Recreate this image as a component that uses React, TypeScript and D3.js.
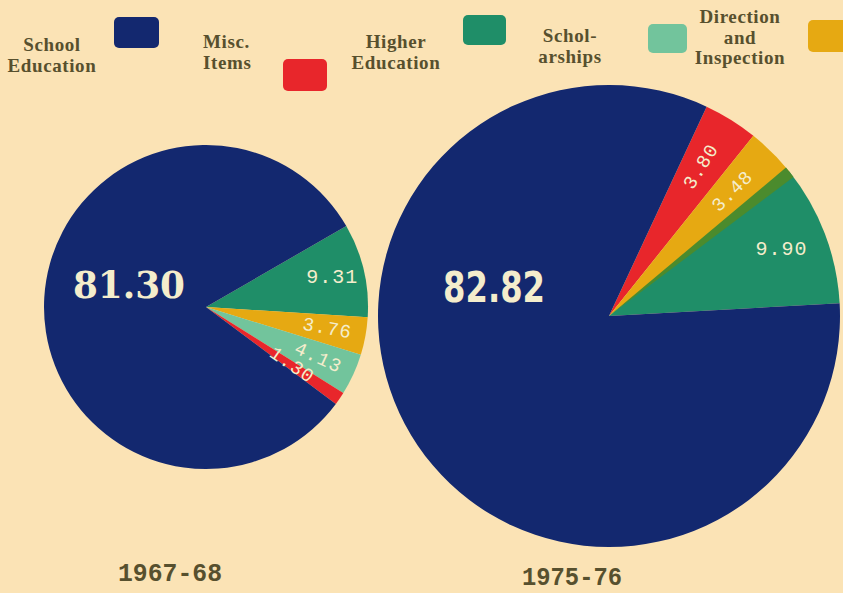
import React from "react";
import * as d3 from "d3";

// ---- data ----
const legendCategories = [
  "School Education",
  "Misc. Items",
  "Higher Education",
  "Scholarships",
  "Direction and Inspection",
];
const legendLines = [
  ["School", "Education"],
  ["Misc.", "Items"],
  ["Higher", "Education"],
  ["Schol-", "arships"],
  ["Direction", "and", "Inspection"],
];
const categoryColors = ["#13286f", "#e8262b", "#1f8e68", "#72c49c", "#e6a912"];

const years = ["1967-68", "1975-76"];

const leftCategories = [
  "Higher Education",
  "Direction and Inspection",
  "Scholarships",
  "Misc. Items",
  "School Education",
];
const leftValues = [9.31, 3.76, 4.13, 1.3, 81.3];
const leftLabels = ["9.31", "3.76", "4.13", "1.30", "81.30"];

const rightCategories = [
  "Misc. Items",
  "Direction and Inspection",
  "Higher Education",
  "School Education",
];
const rightValues = [3.8, 3.48, 9.9, 82.82];
const rightLabels = ["3.80", "3.48", "9.90", "82.82"];

const W = 843;
const H = 593;
const BG = "#fbe3b5";
const INK = "#57502e";
const CREAM = "#f4edcc";

const colorOf = d3.scaleOrdinal<string, string>().domain(legendCategories).range(categoryColors);

type PieSpec = {
  cx: number;
  cy: number;
  r: number;
  cats: string[];
  vals: number[];
  labels: string[];
  startDeg: number;
  bigLabel: { angleDeg: number; rFrac: number; size: number; font: string; len: number };
  overlapAfter?: string;
};

function Pie({ spec }: { spec: PieSpec }) {
  const rad = (d: number) => (d * Math.PI) / 180;
  const pie = d3
    .pie<number>()
    .sort(null)
    .value((d) => d)
    .startAngle(rad(spec.startDeg))
    .endAngle(rad(spec.startDeg) + 2 * Math.PI);
  const arcs = pie(spec.vals);
  const arc = d3.arc<d3.PieArcDatum<number>>().innerRadius(0).outerRadius(spec.r);
  const labelArcAt = (f: number) =>
    d3.arc<d3.PieArcDatum<number>>().innerRadius(spec.r * f).outerRadius(spec.r * f);

  let overlap: React.ReactNode = null;
  if (spec.overlapAfter) {
    const i = spec.cats.indexOf(spec.overlapAfter);
    const b = arcs[i].endAngle;
    const path = d3.arc()({
      innerRadius: 0,
      outerRadius: spec.r,
      startAngle: b - rad(1.2),
      endAngle: b + rad(1.8),
    } as any);
    overlap = <path d={path || ""} fill="#4b8b2d" />;
  }

  return (
    <g transform={`translate(${spec.cx},${spec.cy})`}>
      {arcs.map((a, i) => (
        <path key={i} d={arc(a) || ""} fill={colorOf(spec.cats[i])} />
      ))}
      {overlap}
      {arcs.map((a, i) => {
        const cat = spec.cats[i];
        if (cat === "School Education") {
          const ang = rad(spec.bigLabel.angleDeg);
          const x = Math.sin(ang) * spec.r * spec.bigLabel.rFrac;
          const y = -Math.cos(ang) * spec.r * spec.bigLabel.rFrac;
          return (
            <text
              key={"l" + i}
              x={x}
              y={y}
              textAnchor="middle"
              dominantBaseline="central"
              fill={CREAM}
              fontFamily={spec.bigLabel.font}
              fontWeight="bold"
              fontSize={spec.bigLabel.size}
              textLength={spec.bigLabel.len}
              lengthAdjust="spacingAndGlyphs"
            >
              {spec.labels[i]}
            </text>
          );
        }
        const mid = (a.startAngle + a.endAngle) / 2;
        const rotated = spec.vals[i] < 5;
        const frac = !rotated ? 0.8 : spec.vals[i] < 2 ? 0.64 : 0.76;
        const [x, y] = labelArcAt(frac).centroid(a);
        const mathDeg = 90 - (mid * 180) / Math.PI;
        const rot = rotated ? -mathDeg : 0;
        return (
          <text
            key={"l" + i}
            transform={`translate(${x},${y}) rotate(${rot})`}
            textAnchor="middle"
            dominantBaseline="central"
            fill={CREAM}
            fontFamily="'Liberation Mono', 'DejaVu Sans Mono', monospace"
            fontSize={rotated ? 19 : 20}
            letterSpacing={1}
          >
            {spec.labels[i]}
          </text>
        );
      })}
    </g>
  );
}

export default function App() {
  const leftSpec: PieSpec = {
    cx: 206,
    cy: 307,
    r: 162,
    cats: leftCategories,
    vals: leftValues,
    labels: leftLabels,
    startDeg: 60,
    bigLabel: { angleDeg: -74, rFrac: 0.495, size: 38, font: "'DejaVu Serif', serif", len: 112 },
  };
  const rightSpec: PieSpec = {
    cx: 609,
    cy: 316,
    r: 231,
    cats: rightCategories,
    vals: rightValues,
    labels: rightLabels,
    startDeg: 25,
    bigLabel: { angleDeg: -76, rFrac: 0.513, size: 42, font: "'DejaVu Sans', sans-serif", len: 102 },
    overlapAfter: "Direction and Inspection",
  };

  // legend layout (label then swatch)
  const legendText = [
    { x: 52, y: 51, anchor: "middle" },
    { x: 203, y: 48, anchor: "start" },
    { x: 396, y: 48, anchor: "middle" },
    { x: 570, y: 42, anchor: "middle" },
    { x: 740, y: 23, anchor: "middle" },
  ];
  const swatches = [
    { x: 114, y: 17, w: 45, h: 31 },
    { x: 283, y: 59, w: 44, h: 32 },
    { x: 463, y: 15, w: 43, h: 30 },
    { x: 648, y: 24, w: 39, h: 29 },
    { x: 808, y: 20, w: 40, h: 32 },
  ];

  return (
    <svg
      width={W}
      height={H}
      style={{ position: "absolute", left: 0, top: 0, display: "block", background: BG }}
    >
      <rect width={W} height={H} fill={BG} />
      {legendCategories.map((c, i) => (
        <g key={c}>
          <rect
            x={swatches[i].x}
            y={swatches[i].y}
            width={swatches[i].w}
            height={swatches[i].h}
            rx={5}
            fill={colorOf(c)}
          />
          <text
            x={legendText[i].x}
            y={legendText[i].y}
            textAnchor={legendText[i].anchor as any}
            fill={INK}
            fontFamily="'Liberation Serif', 'DejaVu Serif', serif"
            fontWeight="bold"
            fontSize={19}
            letterSpacing={0.6}
          >
            {legendLines[i].map((ln, j) => (
              <tspan key={j} x={legendText[i].x} dy={j === 0 ? 0 : 20.5}>
                {ln}
              </tspan>
            ))}
          </text>
        </g>
      ))}

      <Pie spec={leftSpec} />
      <Pie spec={rightSpec} />

      <text
        x={170}
        y={581}
        textAnchor="middle"
        fill={INK}
        fontFamily="'Liberation Mono', 'DejaVu Sans Mono', monospace"
        fontWeight="bold"
        fontSize={25}
        textLength={104}
        lengthAdjust="spacingAndGlyphs"
      >
        {years[0]}
      </text>
      <text
        x={572}
        y={585}
        textAnchor="middle"
        fill={INK}
        fontFamily="'Liberation Mono', 'DejaVu Sans Mono', monospace"
        fontWeight="bold"
        fontSize={25}
        textLength={100}
        lengthAdjust="spacingAndGlyphs"
      >
        {years[1]}
      </text>
    </svg>
  );
}
